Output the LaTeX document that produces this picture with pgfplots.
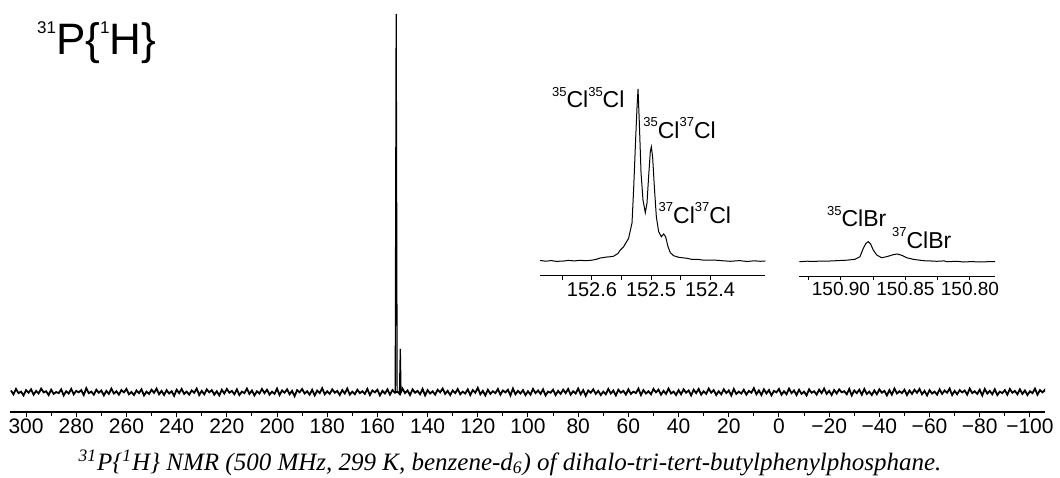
\documentclass[border=0pt]{standalone}
\usepackage{fontspec}
\setmainfont{Liberation Serif}
\setsansfont{Liberation Sans}
\usepackage{pgfplots}
\pgfplotsset{compat=1.18}
\usepackage{pgfplotstable}

\newcommand\iso[3]{\raisebox{#2}{\fontsize{#1}{#1}\selectfont #3}}

% baseline noise of the full spectrum (one value per ppm, from 306 ppm downward)
\pgfplotstableread[row sep=\\]{
y\\
0.4\\-0.6\\0.8\\-0.3\\0.1\\-0.9\\0.5\\-0.2\\0.7\\-0.7\\0.3\\-0.4\\0.9\\-0.1\\0.2\\-0.8\\0.6\\-0.5\\0.0\\-0.3\\
0.7\\-0.9\\0.2\\-0.4\\0.8\\-0.6\\0.3\\-0.1\\0.5\\-0.8\\1.0\\-0.3\\0.1\\-0.7\\0.6\\-0.2\\0.4\\-0.9\\0.3\\-0.5\\
0.9\\-0.4\\0.2\\-0.7\\0.5\\-0.1\\0.8\\-0.6\\0.0\\-0.8\\0.4\\-0.3\\0.7\\-0.9\\0.1\\-0.5\\0.6\\-0.2\\0.9\\-0.6\\
0.3\\-0.8\\0.5\\-0.4\\0.2\\-1.0\\0.6\\-0.3\\0.8\\-0.5\\0.1\\-0.7\\0.4\\-0.2\\0.9\\-0.8\\0.3\\-0.6\\0.7\\-0.1\\
0.5\\-0.7\\0.2\\-0.9\\0.6\\-0.4\\0.8\\-0.2\\0.3\\-0.6\\0.7\\-0.8\\0.1\\-0.3\\0.9\\-0.5\\0.4\\-0.9\\0.2\\-0.4\\
0.8\\-0.3\\0.6\\-0.7\\0.1\\-0.5\\0.9\\-0.8\\0.4\\-0.2\\0.7\\-0.6\\0.3\\-1.1\\0.5\\-0.1\\0.8\\-0.4\\0.2\\-0.7\\
0.6\\-0.9\\0.4\\-0.3\\1.0\\-0.6\\0.2\\-0.5\\0.7\\-0.2\\0.3\\-0.8\\0.5\\-0.4\\0.9\\-0.7\\0.1\\-0.6\\0.6\\-0.3\\
0.2\\-0.5\\0.8\\-0.8\\0.4\\-0.1\\0.6\\-0.9\\0.3\\-0.4\\0.7\\-0.7\\0.5\\-0.2\\0.1\\-0.6\\0.9\\-0.3\\0.4\\-0.8\\
0.7\\-0.2\\0.3\\-0.6\\0.8\\-0.9\\0.5\\-0.4\\0.2\\-0.7\\0.6\\-0.1\\0.9\\-0.5\\0.3\\-0.8\\0.4\\-0.3\\0.8\\-0.6\\
0.1\\-0.4\\0.7\\-0.8\\0.5\\-0.2\\1.1\\-0.6\\0.3\\-0.9\\0.6\\-0.5\\0.2\\-0.3\\0.8\\-0.7\\0.4\\-0.1\\0.6\\-0.9\\
0.9\\-0.6\\0.3\\-0.4\\0.5\\-0.8\\0.2\\-0.7\\0.8\\-0.3\\0.4\\-0.5\\0.7\\-0.9\\0.1\\-0.2\\0.6\\-0.8\\0.3\\-0.5\\
0.6\\-0.3\\0.8\\-0.7\\0.2\\-0.4\\0.9\\-0.6\\0.5\\-1.0\\0.4\\-0.2\\0.7\\-0.5\\0.3\\-0.8\\0.1\\-0.6\\0.8\\-0.4\\
0.4\\-0.9\\0.6\\-0.2\\0.3\\-0.7\\0.7\\-0.5\\0.1\\-0.3\\0.9\\-0.8\\0.5\\-0.4\\0.2\\-0.6\\0.8\\-0.1\\0.6\\-0.7\\
0.3\\-0.5\\0.9\\-0.4\\0.1\\-0.8\\0.5\\-0.6\\0.7\\-0.2\\0.4\\-0.9\\0.6\\-0.3\\0.8\\-0.7\\0.2\\-0.5\\0.9\\-0.2\\
0.5\\-0.8\\0.2\\-0.6\\0.7\\-0.3\\0.4\\-0.9\\0.8\\-0.5\\0.1\\-0.4\\0.6\\-0.7\\0.3\\-0.2\\1.0\\-0.6\\0.4\\-0.8\\
0.7\\-0.4\\0.5\\-0.9\\0.3\\-0.1\\0.8\\-0.7\\0.2\\-0.6\\0.9\\-0.3\\0.4\\-0.8\\0.6\\-0.5\\0.1\\-0.9\\0.7\\-0.2\\
0.2\\-0.7\\0.6\\-0.3\\0.9\\-0.5\\0.3\\-0.8\\0.5\\-0.4\\0.7\\-0.1\\0.2\\-0.6\\0.8\\-0.9\\0.4\\-0.3\\0.6\\-0.7\\
0.8\\-0.5\\0.1\\-0.8\\0.4\\-0.6\\0.7\\-0.2\\0.3\\-0.9\\0.5\\-0.7\\0.9\\-0.4\\0.2\\-0.3\\0.6\\-0.8\\0.4\\-0.5\\
0.6\\-0.2\\0.8\\-0.6\\0.3\\-0.9\\0.5\\-0.4\\0.1\\-0.7\\0.7\\-0.5\\0.4\\-0.2\\0.9\\-0.8\\0.3\\-0.6\\0.5\\-0.1\\
0.4\\-0.7\\0.9\\-0.3\\0.2\\-0.5\\0.6\\-0.9\\0.8\\-0.4\\0.3\\-0.6\\0.7\\-0.8\\0.1\\-0.3\\0.5\\-0.7\\0.8\\-0.2\\
0.3\\-0.6\\0.7\\-0.5\\0.4\\-0.8\\0.2\\-0.3\\0.9\\-0.7\\0.5\\-0.1\\0.6\\-0.9\\0.3\\-0.4\\0.8\\-0.6\\0.2\\-0.5\\
}\noise

\begin{document}
\begin{tikzpicture}
\useasboundingbox (0,0) rectangle (530pt,238.5pt);

% ---------- full spectrum ----------
\begin{axis}[
  at={(5pt,32.5pt)}, anchor=south west, scale only axis,
  width=517.5pt, height=206pt,
  xmin=-106, xmax=306.4, x dir=reverse,
  ymin=-5.29, ymax=103.7,
  axis x line=bottom, axis y line=none,
  axis line style={-, black, line width=0.6pt},
  xtick={300,280,260,240,220,200,180,160,140,120,100,80,60,40,20,0,-20,-40,-60,-80,-100},
  xticklabels={300,280,260,240,220,200,180,160,140,120,100,80,60,40,20,0,−20,−40,−60,−80,−100},
  minor xtick={290,270,250,230,210,190,170,150,130,110,90,70,50,30,10,-10,-30,-50,-70,-90},
  tick align=outside, major tick length=2.5pt, minor tick length=1.8pt,
  every tick/.style={black, line width=0.5pt},
  xticklabel style={font=\sffamily\fontsize{10.5}{11}\selectfont, inner sep=0.5pt},
]
\addplot[black, line width=0.9pt] table[x expr=306-\coordindex, y=y] {\noise};
\addplot[black, line width=0.6pt] coordinates {(152.9,0) (152.52,100) (152.15,0)};
\addplot[black, line width=0.6pt] coordinates {(151.2,0) (150.88,11.4) (150.6,0)};
\end{axis}

% ---------- inset: 152.x ppm ----------
\begin{axis}[
  at={(270pt,100.5pt)}, anchor=south west, scale only axis,
  width=112.5pt, height=93.5pt,
  xmin=152.307, xmax=152.688, x dir=reverse,
  ymin=-15, ymax=172,
  axis x line=bottom, axis y line=none,
  axis line style={-, black, line width=0.5pt},
  xtick={152.6,152.5,152.4}, xticklabels={152.6,152.5,152.4},
  minor xtick={152.65,152.55,152.45},
  tick align=outside, major tick length=2pt, minor tick length=2pt,
  every tick/.style={black, line width=0.5pt},
  xticklabel style={font=\sffamily\fontsize{10}{11}\selectfont, inner sep=1pt},
  clip=false,
]
\addplot[black, line width=0.5pt] coordinates {
(152.6876,0.5) (152.6780,-0.2) (152.6690,0.4) (152.6600,-0.4) (152.6481,0.0)
(152.6400,0.6) (152.6300,0.1) (152.6198,0.7) (152.6100,0.3) (152.6000,0.8)
(152.5920,1.8) (152.5859,3.0) (152.5746,4.0) (152.5680,4.3) (152.5634,4.8)
(152.5560,7.5) (152.5520,11.0) (152.5464,14.3) (152.5380,22.7) (152.5322,38.0)
(152.5295,71.0) (152.5261,121.0) (152.5237,154.0) (152.5220,172.0) (152.5198,138.0)
(152.5169,88.0) (152.5136,61.0) (152.5097,48.3) (152.5068,58.0) (152.5041,84.3)
(152.5012,109.3) (152.4995,114.3) (152.4973,104.3) (152.4944,74.3) (152.4910,44.3)
(152.4871,29.3) (152.4825,24.3) (152.4786,27.0) (152.4753,24.3) (152.4712,14.3)
(152.4673,8.3) (152.4617,5.3) (152.4532,3.7) (152.4390,2.7) (152.4300,1.5)
(152.4220,1.7) (152.4100,0.8) (152.3939,1.0) (152.3800,0.3) (152.3656,-0.3)
(152.3500,0.4) (152.3373,-0.5) (152.3250,0.2) (152.3150,-0.3) (152.3063,0.0)
};
\end{axis}

% ---------- inset: 150.8x ppm ----------
\begin{axis}[
  at={(399.65pt,100.5pt)}, anchor=south west, scale only axis,
  width=97.85pt, height=93.5pt,
  xmin=150.7806, xmax=150.9323, x dir=reverse,
  ymin=-15, ymax=172,
  axis x line=bottom, axis y line=none,
  axis line style={-, black, line width=0.5pt},
  xtick={150.90,150.85,150.80}, xticklabels={150.90,150.85,150.80},
  minor xtick={150.925,150.875,150.825},
  tick align=outside, major tick length=2pt, minor tick length=2pt,
  every tick/.style={black, line width=0.5pt},
  xticklabel style={font=\sffamily\fontsize{9.5}{11}\selectfont, inner sep=1pt},
  clip=false,
]
\addplot[black, line width=0.5pt] coordinates {
(150.9323,-0.7) (150.9260,-0.2) (150.9215,-0.5) (150.9150,0.0) (150.9085,0.0)
(150.9020,0.4) (150.8956,0.8) (150.8891,1.7) (150.8853,4.3) (150.8827,12.7)
(150.8806,17.7) (150.8788,19.3) (150.8770,17.0) (150.8750,11.0) (150.8723,6.0)
(150.8685,3.3) (150.8646,4.3) (150.8595,6.3) (150.8564,7.0) (150.8529,5.7)
(150.8491,3.3) (150.8440,1.7) (150.8362,0.3) (150.8300,0.0) (150.8258,-0.3)
(150.8200,0.1) (150.8181,-0.7) (150.8100,-0.3) (150.8052,-1.0) (150.7990,-0.6)
(150.7922,-1.0) (150.7860,-0.7) (150.7806,-0.5)
};
\end{axis}

% ---------- texts ----------
\node[anchor=base west, inner sep=0pt, font=\sffamily\fontsize{22}{24}\selectfont]
  at (18.35pt,211pt) {\iso{8.5}{10.5pt}{31}P\{\iso{8.5}{10.5pt}{1}H\}};

\node[anchor=base west, inner sep=0pt, font=\sffamily\fontsize{11.5}{12}\selectfont]
  at (275.85pt,184.5pt) {\iso{6.5}{5.8pt}{35}Cl\iso{6.5}{5.8pt}{35}Cl};
\node[anchor=base west, inner sep=0pt, font=\sffamily\fontsize{11.5}{12}\selectfont]
  at (321.5pt,169.35pt) {\iso{6.5}{5.8pt}{35}Cl\iso{6.5}{5.8pt}{37}Cl};
\node[anchor=base west, inner sep=0pt, font=\sffamily\fontsize{11.5}{12}\selectfont]
  at (329.15pt,126.85pt) {\iso{6.5}{5.8pt}{37}Cl\iso{6.5}{5.8pt}{37}Cl};
\node[anchor=base west, inner sep=0pt, font=\sffamily\fontsize{11.5}{12}\selectfont]
  at (413.35pt,125.15pt) {\iso{6.5}{5.8pt}{35}ClBr};
\node[anchor=base west, inner sep=0pt, font=\sffamily\fontsize{11.5}{12}\selectfont]
  at (445.85pt,114.35pt) {\iso{6.5}{5.8pt}{37}ClBr};

\node[anchor=base, inner sep=0pt, font=\itshape\fontsize{12.5}{14}\selectfont]
  at (255pt,3.5pt) {\textsuperscript{31}P\{\textsuperscript{1}H\} NMR (500 MHz, 299 K, benzene-d\textsubscript{6}) of dihalo-tri-tert-butylphenylphosphane.};
\end{tikzpicture}
\end{document}
